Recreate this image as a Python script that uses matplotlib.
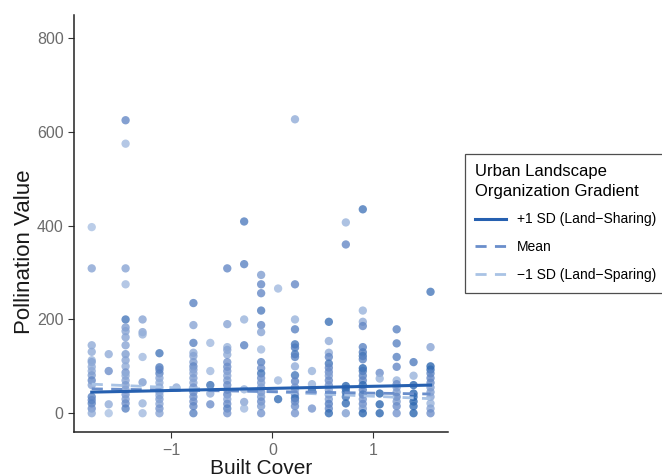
import numpy as np
import matplotlib
matplotlib.use('Agg')
import matplotlib.pyplot as plt
from matplotlib.colors import LinearSegmentedColormap
from matplotlib.lines import Line2D

plt.rcParams['font.family'] = ['Liberation Sans', 'DejaVu Sans']

# built cover levels (standardised)
built_cover = [-1.787, -1.619, -1.452, -1.284, -1.117, -0.949, -0.781, -0.614,
               -0.446, -0.279, -0.111, 0.057, 0.224, 0.392, 0.559, 0.727,
               0.895, 1.062, 1.230, 1.397, 1.565]

# pollination values per built cover level
pollination = [
    [397, 309, 145, 131, 113, 109, 99, 90, 81, 70, 60, 35, 28, 21, 10, 0],
    [126, 90, 19, 0],
    [625, 575, 309, 275, 200, 183, 175, 162, 145, 126, 113, 100, 87, 80, 70, 60, 50, 40, 30, 21, 10],
    [200, 173, 168, 120, 66, 21, 0],
    [128, 98, 93, 85, 75, 65, 55, 45, 38, 30, 20, 10, 0],
    [55],
    [235, 188, 150, 129, 122, 109, 100, 93, 85, 75, 65, 55, 45, 35, 25, 15, 0],
    [150, 90, 60, 42, 19],
    [309, 190, 141, 135, 125, 109, 99, 90, 80, 70, 60, 50, 40, 30, 20, 10, 0],
    [409, 318, 200, 145, 51, 24, 10],
    [295, 275, 256, 219, 188, 173, 136, 109, 96, 85, 75, 65, 55, 45, 35, 25, 15, 0],
    [266, 70, 30],
    [627, 275, 200, 179, 147, 140, 126, 120, 100, 81, 68, 55, 49, 40, 32, 25, 15, 0],
    [90, 62, 49, 10],
    [195, 154, 129, 120, 106, 97, 88, 80, 70, 60, 50, 40, 30, 20, 10, 0],
    [407, 360, 58, 52, 45, 35, 21, 0],
    [435, 219, 195, 186, 141, 130, 122, 115, 96, 90, 80, 70, 60, 50, 40, 30, 20, 10, 0],
    [86, 74, 42, 19, 0],
    [179, 149, 120, 99, 70, 62, 55, 45, 35, 25, 15, 0],
    [109, 80, 60, 42, 35, 25, 15, 0],
    [259, 141, 100, 93, 85, 75, 65, 55, 45, 35, 21, 10, 0],
]

# organization gradient of each point (0 = land-sparing, 1 = land-sharing)
gradient = [
    [.15, .35, .3, .3, .25, .35, .3, .3, .4, .55, .35, .6, .55, .6, .5, .3],
    [.3, .5, .3, .15],
    [.55, .2, .35, .2, .7, .4, .35, .35, .35, .4, .35, .3, .45, .3, .35, .4, .35, .45, .4, .5, .6],
    [.35, .35, .25, .2, .4, .25, .2],
    [.7, .65, .55, .6, .35, .3, .3, .35, .3, .4, .35, .45, .35],
    [.3],
    [.6, .35, .6, .3, .35, .4, .55, .4, .35, .4, .35, .45, .5, .5, .5, .55, .6],
    [.2, .2, .75, .3, .5],
    [.55, .35, .25, .35, .3, .45, .5, .45, .35, .4, .5, .35, .55, .35, .5, .6, .45],
    [.65, .6, .25, .6, .25, .35, .2],
    [.4, .55, .55, .65, .55, .35, .2, .6, .5, .7, .5, .4, .35, .45, .4, .5, .4, .45],
    [.2, .2, .8],
    [.3, .55, .25, .6, .7, .65, .7, .6, .3, .7, .55, .45, .3, .5, .8, .55, .5, .45],
    [.25, .25, .8, .45],
    [.75, .3, .3, .55, .7, .55, .5, .4, .5, .45, .35, .5, .4, .6, .55, .8],
    [.25, .55, .85, .8, .75, .7, .8, .4],
    [.7, .25, .3, .55, .6, .65, .7, .6, .85, .7, .6, .55, .8, .55, .65, .45, .5, .4, .85],
    [.5, .25, .85, .85, .85],
    [.6, .6, .6, .55, .25, .5, .35, .4, .55, .4, .5, .45],
    [.65, .25, .85, .85, .8, .85, .8, .85],
    [.7, .35, .85, .8, .6, .55, .55, .4, .4, .35, .25, .35, .5],
]

# fitted lines at -1 SD / mean / +1 SD of the gradient
trend_x = [-1.787, 1.565]
sharing_y = [45, 60]
mean_y = [52, 41]
sparing_y = [62, 31]

xs, ys, cs = [], [], []
for bx, vals, grads in zip(built_cover, pollination, gradient):
    xs += [bx] * len(vals)
    ys += vals
    cs += grads

cmap = LinearSegmentedColormap.from_list('grad', ['#c3d6ed', '#6a8cc8', '#0a52a3'])

fig = plt.figure(figsize=(6.62, 4.76), dpi=100)
ax = fig.add_axes([0.112, 0.092, 0.564, 0.876])

ax.scatter(xs, ys, c=cs, cmap=cmap, vmin=0, vmax=1, s=36, alpha=0.78,
           linewidths=0, zorder=2)

ax.plot(trend_x, sparing_y, color='#a9c3e5', lw=2, ls=(0, (4, 3)), zorder=3)
ax.plot(trend_x, mean_y, color='#6a8ecb', lw=2, ls=(0, (4, 3)), zorder=3)
ax.plot(trend_x, sharing_y, color='#2660b0', lw=2.2, zorder=3)

ax.set_xlim(-1.961, 1.733)
ax.set_ylim(-40.5, 849)
ax.set_xticks([-1, 0, 1])
ax.set_xticklabels(['\u22121', '0', '1'])
ax.set_yticks([0, 200, 400, 600, 800])

for side in ['top', 'right']:
    ax.spines[side].set_visible(False)
for side in ['left', 'bottom']:
    ax.spines[side].set_color('#222222')
    ax.spines[side].set_linewidth(1.1)
ax.tick_params(colors='#333333', labelcolor='#6b6b6b', labelsize=11.5, length=4)

ax.set_xlabel('Built Cover', fontsize=15, color='#1a1a1a', labelpad=1)
ax.set_ylabel('Pollination Value', fontsize=16, color='#1a1a1a', labelpad=2)
ax.yaxis.set_label_coords(-0.105, 0.432)

handles = [
    Line2D([], [], color='#2660b0', lw=2.2),
    Line2D([], [], color='#6a8ecb', lw=2, ls=(0, (4, 3))),
    Line2D([], [], color='#a9c3e5', lw=2, ls=(0, (4, 3))),
]
labels = ['+1 SD (Land\u2212Sharing)', 'Mean', '\u22121 SD (Land\u2212Sparing)']
leg = fig.legend(handles, labels, title='Urban Landscape\nOrganization Gradient',
                 loc='center left', bbox_to_anchor=(0.702, 0.531),
                 fontsize=10, title_fontsize=12, frameon=True, fancybox=False,
                 edgecolor='#222222', alignment='left', handlelength=2.2,
                 labelspacing=1.0, borderpad=0.75, borderaxespad=0)
leg.get_title().set_linespacing(1.35)
leg.get_frame().set_linewidth(0.9)

fig.savefig('out.png', dpi=100)
